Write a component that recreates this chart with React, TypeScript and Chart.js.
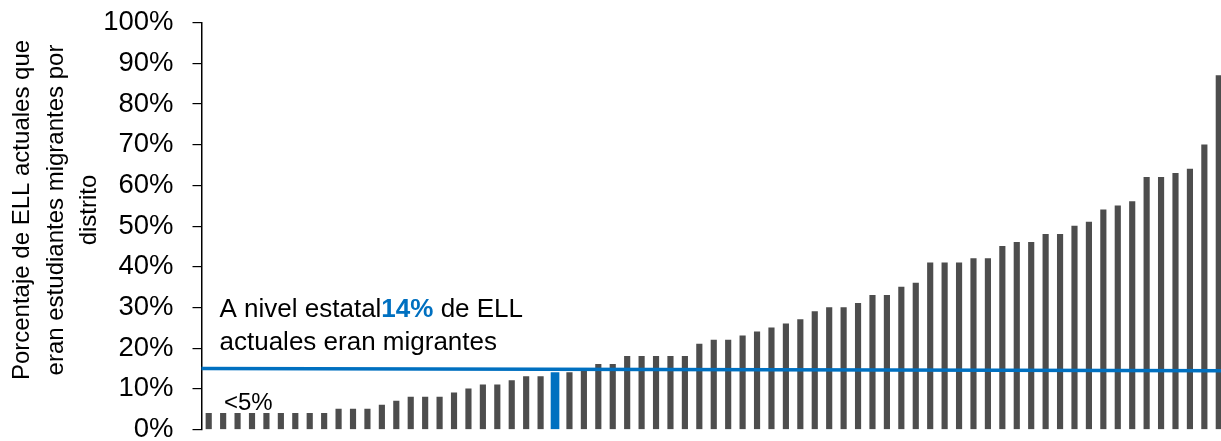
import React, { useEffect, useRef } from 'react';
import { Chart, registerables } from 'chart.js';

Chart.register(...registerables);

// ---- data ----
const districtValues: number[] = [
  4, 4, 4, 4, 4, 4, 4, 4, 4,
  5, 5, 5, 6, 7, 8, 8, 8, 9, 10, 11, 11, 12, 13, 13,
  14, 14, 15, 16, 16, 18, 18, 18, 18, 18,
  21, 22, 22, 23, 24, 25, 26, 27, 29, 30, 30, 31, 33, 33, 35, 36,
  41, 41, 41, 42, 42, 45, 46, 46, 48, 48, 50, 51, 54, 55, 56,
  62, 62, 63, 64, 70, 87,
];
const districtLabels: string[] = districtValues.map((_, i) => `Distrito ${i + 1}`);
const highlightIndex = 24;
const stateLineValues: number[] = [15.0, 14.45];
const yTickLabels: string[] = ['0%', '10%', '20%', '30%', '40%', '50%', '60%', '70%', '80%', '90%', '100%'];
const axisTitleLines: string[] = ['Porcentaje de ELL actuales que', 'eran estudiantes migrantes por', 'distrito'];
const noteLine1: string[] = ['A nivel estatal', '14%', ' de ELL'];
const noteLine2 = 'actuales eran migrantes';
const smallLabel = '<5%';

const FONT = '"Liberation Sans", Arial, Helvetica, sans-serif';
const GREY = '#4D4D4D';
const BLUE = '#0070C0';

const overlayPlugin = {
  id: 'overlay',
  afterDatasetsDraw(chart: any) {
    const { ctx, chartArea, scales } = chart;
    const y = scales.y;
    ctx.save();
    ctx.strokeStyle = BLUE;
    ctx.lineWidth = 3.5;
    ctx.beginPath();
    ctx.moveTo(chartArea.left, y.getPixelForValue(stateLineValues[0]));
    ctx.lineTo(chartArea.right, y.getPixelForValue(stateLineValues[1]));
    ctx.stroke();
    ctx.restore();
  },
  afterDraw(chart: any) {
    const { ctx } = chart;
    ctx.save();
    // axis title
    ctx.fillStyle = '#000';
    ctx.font = `24px ${FONT}`;
    ctx.textAlign = 'center';
    ctx.textBaseline = 'middle';
    ctx.translate(22.7, 210);
    ctx.rotate(-Math.PI / 2);
    axisTitleLines.forEach((l, i) => ctx.fillText(l, 0, i * 33.2));
    ctx.restore();

    // annotation
    ctx.save();
    ctx.textAlign = 'left';
    ctx.textBaseline = 'alphabetic';
    let x = 219.5;
    const b1 = 316.5;
    ctx.font = `26px ${FONT}`;
    ctx.fillStyle = '#000';
    ctx.fillText(noteLine1[0], x, b1);
    x += ctx.measureText(noteLine1[0]).width;
    ctx.font = `bold 26px ${FONT}`;
    ctx.fillStyle = BLUE;
    ctx.fillText(noteLine1[1], x, b1);
    x += ctx.measureText(noteLine1[1]).width;
    ctx.font = `26px ${FONT}`;
    ctx.fillStyle = '#000';
    ctx.fillText(noteLine1[2], x, b1);
    ctx.fillText(noteLine2, 219.5, 350);

    ctx.font = `24px ${FONT}`;
    ctx.fillText(smallLabel, 224, 409.5);
    ctx.restore();
  },
};

export default function App() {
  const canvasRef = useRef<HTMLCanvasElement | null>(null);

  useEffect(() => {
    const canvas = canvasRef.current;
    if (!canvas) return;
    const chart = new Chart(canvas, {
      type: 'bar',
      data: {
        labels: districtLabels,
        datasets: [
          {
            label: 'Distritos',
            data: districtValues.map((v, i) => (i === highlightIndex ? null : v)),
            backgroundColor: GREY,
            barThickness: 5.5,
            grouped: false,
          } as any,
          {
            label: 'Distrito destacado',
            data: districtValues.map((v, i) => (i === highlightIndex ? v : null)),
            backgroundColor: BLUE,
            barThickness: 8,
            grouped: false,
          } as any,
        ],
      },
      options: {
        animation: false,
        responsive: false,
        devicePixelRatio: 1,
        layout: { padding: { left: 0, right: 0, top: 22.7, bottom: 11.5 } },
        plugins: {
          legend: { display: false },
          tooltip: { enabled: false },
          title: { display: false },
        },
        scales: {
          x: {
            display: false,
            offset: true,
            grid: { display: false },
          },
          y: {
            min: 0,
            max: 100,
            afterFit(scale: any) {
              scale.width = 201.5;
              scale.paddingTop = 0;
              scale.paddingBottom = 0;
            },
            ticks: {
              stepSize: 10,
              padding: 19,
              color: '#000',
              font: { family: FONT, size: 27.5, lineHeight: 0.8 },
              callback: (_v: any, i: number) => yTickLabels[i],
            },
            grid: {
              drawOnChartArea: false,
              drawTicks: true,
              tickLength: 9,
              color: '#000',
              lineWidth: 1.2,
            },
            border: { display: true, color: '#000', width: 1.5 },
          },
        },
      },
      plugins: [overlayPlugin],
    });
    return () => chart.destroy();
  }, []);

  return (
    <div style={{ position: 'absolute', left: 0, top: 0, width: 1221, height: 441, overflow: 'hidden', background: '#fff' }}>
      <canvas ref={canvasRef} width={1226} height={441} style={{ display: 'block', width: 1226, height: 441 }} />
    </div>
  );
}
